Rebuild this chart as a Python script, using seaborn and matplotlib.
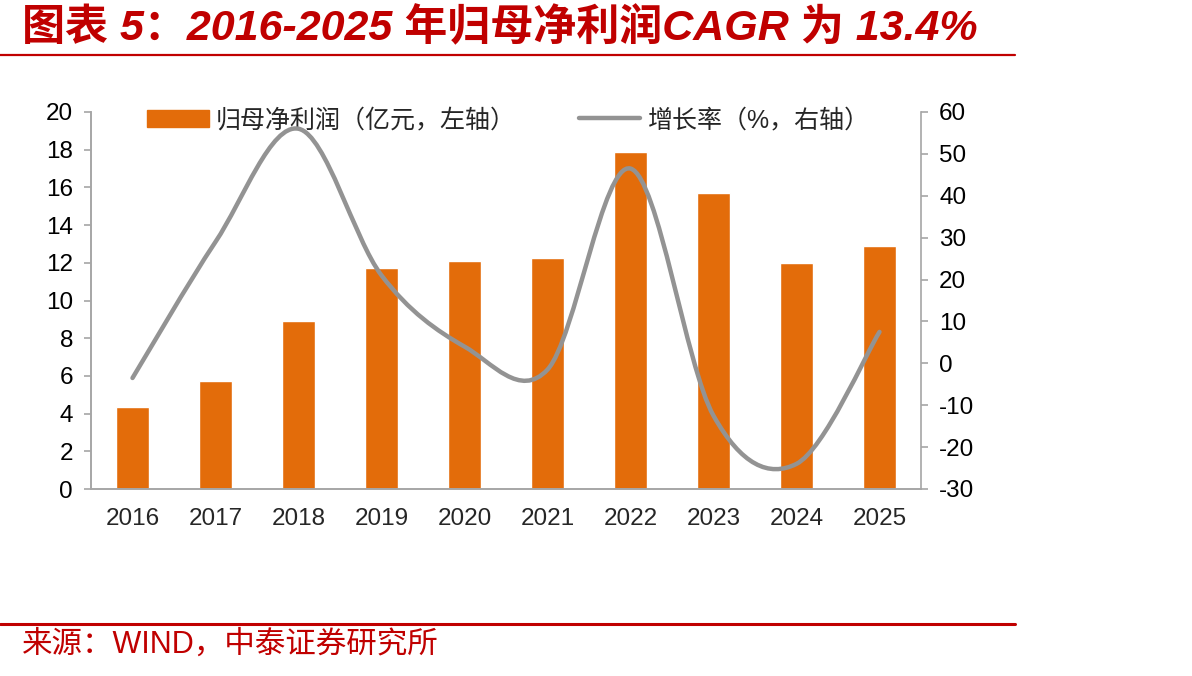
import numpy as np
import pandas as pd
import seaborn as sns
import matplotlib
matplotlib.use('agg')
import matplotlib.pyplot as plt
from matplotlib.path import Path
from matplotlib.patches import PathPatch, Patch
from matplotlib.lines import Line2D

years = ['2016', '2017', '2018', '2019', '2020', '2021', '2022', '2023', '2024', '2025']
profit = [4.35, 5.73, 8.9, 11.7, 12.1, 12.25, 17.9, 15.7, 12.0, 12.9]   # 亿元, left axis
growth = [-3.5, 29, 56, 21, 4, -1.5, 46.5, -12.5, -24, 7.5]           # %, right axis

title = '图表 5：2016-2025 年归母净利润CAGR 为 13.4%'
source = '来源：WIND，中泰证券研究所'
bar_label = '归母净利润（亿元，左轴）'
line_label = '增长率（%，右轴）'

ORANGE = '#E36C0A'
GREY = '#939393'
RED = '#C00000'
AXIS = '#A6A6A6'

sns.set_theme(style='white')
plt.rcParams['font.family'] = ['Liberation Sans', 'Noto Sans CJK SC', 'DejaVu Sans']
plt.rcParams['axes.unicode_minus'] = False

df = pd.DataFrame({'year': years, 'profit': profit, 'growth': growth})

fig = plt.figure(figsize=(11.92, 6.76), dpi=100)
ax = fig.add_axes([91 / 1192, 1 - 489 / 676, (921 - 91) / 1192, (489 - 112) / 676])

sns.barplot(data=df, x='year', y='profit', color=ORANGE, saturation=1, width=0.4, ax=ax)
ax.set_ylim(0, 20)
ax.set_yticks(np.arange(0, 21, 2))
ax.set_xlim(-0.5, len(years) - 0.5)
ax.set_xlabel('')
ax.set_ylabel('')

ax2 = ax.twinx()
ax2.set_ylim(-30, 60)
ax2.set_yticks(np.arange(-30, 61, 10))


# excel-like smoothed line: cubic bezier through the data points
def smooth_path(xs, ys):
    pts = np.column_stack([xs, ys]).astype(float)
    verts = [pts[0]]
    codes = [Path.MOVETO]
    n = len(pts)
    for i in range(n - 1):
        p0 = pts[max(i - 1, 0)]
        p1 = pts[i]
        p2 = pts[i + 1]
        p3 = pts[min(i + 2, n - 1)]
        c1 = p1 + (p2 - p0) / 6.0
        c2 = p2 - (p3 - p1) / 6.0
        verts += [c1, c2, p2]
        codes += [Path.CURVE4] * 3
    return Path(verts, codes)


xs = np.arange(len(years))
ax2.add_patch(PathPatch(smooth_path(xs, df['growth'].values), fill=False,
                        edgecolor=GREY, lw=3.2, capstyle='round', joinstyle='round', zorder=3))

for a in (ax, ax2):
    for s in a.spines.values():
        s.set_color(AXIS)
        s.set_linewidth(1.2)
    a.spines['top'].set_visible(False)
    a.tick_params(axis='y', length=5, width=1.2, color=AXIS, direction='out',
                  labelsize=17.5, labelcolor='black', pad=8)
ax.spines['right'].set_visible(False)

# category ticks sit between the bars
ax.set_xticks(xs)
ax.set_xticklabels(years)
ax.set_xticks(np.arange(-0.5, len(years)), minor=True)
ax.tick_params(axis='x', which='major', length=0, labelsize=17.5, pad=14)
ax.tick_params(axis='x', which='minor', length=5, width=1.2, color=AXIS, direction='out')
ax.tick_params(axis='y', left=True)
ax2.tick_params(axis='y', right=True)

handles = [Patch(color=ORANGE), Line2D([], [], color=GREY, lw=3.2)]
ax.legend(handles, [bar_label, line_label], loc='upper center', bbox_to_anchor=(0.503, 1.07),
          ncol=2, frameon=False, fontsize=18, handlelength=2.45, handleheight=0.7,
          columnspacing=2.5, handletextpad=0.3)

fig.text(22 / 1192, 1 - 28 / 676, title, color=RED, fontsize=31, fontweight='bold',
         ha='left', va='center', style='italic')
fig.add_artist(Line2D([0, 1015 / 1192], [1 - 55 / 676] * 2, color=RED, lw=1.6))
fig.add_artist(Line2D([0, 1015 / 1192], [1 - 624 / 676] * 2, color=RED, lw=2.2))
fig.text(22 / 1192, 1 - 645 / 676, source, color=RED, fontsize=22, ha='left', va='center')

fig.savefig('out.png', dpi=100)
